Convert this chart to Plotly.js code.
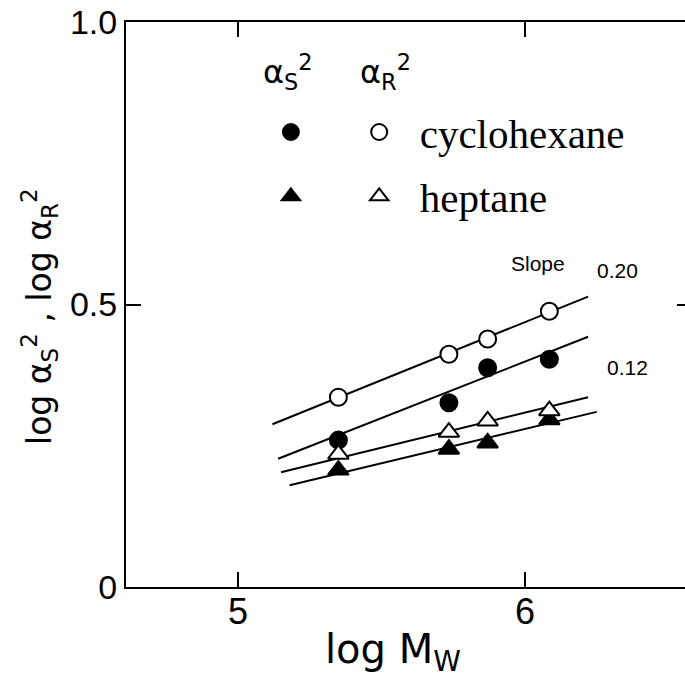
<!DOCTYPE html>
<html><head><meta charset="utf-8">
<script src="https://cdn.plot.ly/plotly-3.0.1.min.js"></script>
<style>html,body{margin:0;padding:0;overflow:hidden;background:#fff}</style>
</head><body><div id="chart" style="width:700px;height:685px"></div>
<script>
// log Mw of the samples
const logMw = [5.35, 5.735, 5.87, 6.085];
// log alpha_S^2 and log alpha_R^2
const aS_cyclo = [0.26, 0.326, 0.388, 0.403];
const aR_cyclo = [0.336, 0.412, 0.439, 0.488];
const aS_hept  = [0.207, 0.244, 0.255, 0.296];
const aR_hept  = [0.235, 0.274, 0.294, 0.312];
// fitted straight lines (end points)
const fitX = [[5.12, 6.22], [5.14, 6.22], [5.15, 6.22], [5.18, 6.25]];
const fitY = [[0.288, 0.514], [0.227, 0.443], [0.203, 0.336], [0.180, 0.310]];
const xTicks = [5, 6];
const yTicks = [0, 0.5, 1.0];
const yTickText = ['0', '0.5', '1.0'];
const solvents = ['cyclohexane', 'heptane'];
const slopeLabels = ['Slope', '0.20', '0.12'];
const xTitle = 'log M<sub>W</sub>';
const yTitle = 'log α<sub>S</sub><sup>2</sup> , log α<sub>R</sub><sup>2</sup>';
const colHeads = ['α<sub>S</sub><sup>2</sup>', 'α<sub>R</sub><sup>2</sup>'];

const sans = 'Liberation Sans, Arial, sans-serif';
const geo = 'DejaVu Sans, sans-serif';
const serif = 'Liberation Serif, Times New Roman, serif';
const NB = '\u00a0';

const traces = [];
for (let i = 0; i < fitX.length; i++) {
  traces.push({x: fitX[i], y: fitY[i], mode: 'lines', line: {color: '#000', width: 2},
    showlegend: false, hoverinfo: 'skip'});
}
const mk = (sym, filled) => ({symbol: sym, size: sym === 'circle' ? 17 : 18,
  color: filled ? '#000' : '#fff', line: {color: '#000', width: 2}});
traces.push({x: logMw, y: aS_cyclo, mode: 'markers', marker: mk('circle', true),
  name: ' ', legend: 'legend', legendgroup: 'a'});
traces.push({x: logMw, y: aS_hept, mode: 'markers', marker: mk('triangle-up', true),
  name: ' ', legend: 'legend', legendgroup: 'b'});
traces.push({x: logMw, y: aR_cyclo, mode: 'markers', marker: mk('circle', false),
  name: NB + NB + solvents[0], legend: 'legend2', legendgroup: 'c'});
traces.push({x: logMw, y: aR_hept, mode: 'markers', marker: mk('triangle-up', false),
  name: NB + NB + solvents[1], legend: 'legend2', legendgroup: 'd'});

const legCommon = {xanchor: 'left', yanchor: 'top', bgcolor: 'rgba(0,0,0,0)',
  tracegroupgap: 8, font: {family: serif, size: 41, color: '#000'}};

const ann = (x, y, text, font, extra) => Object.assign({x, y, xref: 'paper', yref: 'paper',
  text, showarrow: false, font}, extra || {});

const layout = {
  width: 700, height: 685,
  margin: {l: 126, r: 8, t: 22, b: 98},
  paper_bgcolor: '#fff', plot_bgcolor: '#fff',
  showlegend: true,
  xaxis: {range: [4.61, 6.582], tickvals: xTicks, ticktext: xTicks.map(String),
    ticks: 'inside', ticklen: 15, tickwidth: 2, tickcolor: '#000',
    showline: true, linewidth: 2, linecolor: '#000', mirror: 'allticks',
    showgrid: false, zeroline: false, ticklabelstandoff: -8,
    tickfont: {family: sans, size: 36, color: '#000'}},
  yaxis: {range: [0, 1.0], tickvals: yTicks, ticktext: yTickText,
    ticks: 'inside', ticklen: 15, tickwidth: 2, tickcolor: '#000',
    showline: true, linewidth: 2, linecolor: '#000', mirror: 'allticks',
    showgrid: false, zeroline: false,
    tickfont: {family: sans, size: 34, color: '#000'}},
  legend: Object.assign({}, legCommon, {x: 0.256, y: 0.864}),
  legend2: Object.assign({}, legCommon, {x: 0.412, y: 0.864}),
  annotations: [
    // axis titles
    ann((393 - 126) / 566, (587 - 652) / 565, xTitle, {family: geo, size: 40, color: '#000'},
      {xanchor: 'center', yanchor: 'middle'}),
    ann((40 - 126) / 566, (587 - 317) / 565, yTitle, {family: geo, size: 33, color: '#000'},
      {xanchor: 'center', yanchor: 'middle', textangle: -90}),
    // legend column heads
    ann((288 - 126) / 566, (587 - 72) / 565, colHeads[0], {family: geo, size: 32, color: '#000'},
      {xanchor: 'center', yanchor: 'middle'}),
    ann((385 - 126) / 566, (587 - 72) / 565, colHeads[1], {family: geo, size: 32, color: '#000'},
      {xanchor: 'center', yanchor: 'middle'}),
    // slope labels
    {x: 6.045, y: 0.573, xref: 'x', yref: 'y', text: slopeLabels[0], showarrow: false,
     font: {family: sans, size: 21, color: '#000'}},
    {x: 6.324, y: 0.561, xref: 'x', yref: 'y', text: slopeLabels[1], showarrow: false,
     font: {family: sans, size: 21, color: '#000'}},
    {x: 6.359, y: 0.388, xref: 'x', yref: 'y', text: slopeLabels[2], showarrow: false,
     font: {family: sans, size: 21, color: '#000'}}
  ]
};
Plotly.newPlot('chart', traces, layout, {displayModeBar: false, staticPlot: true});
</script></body></html>
